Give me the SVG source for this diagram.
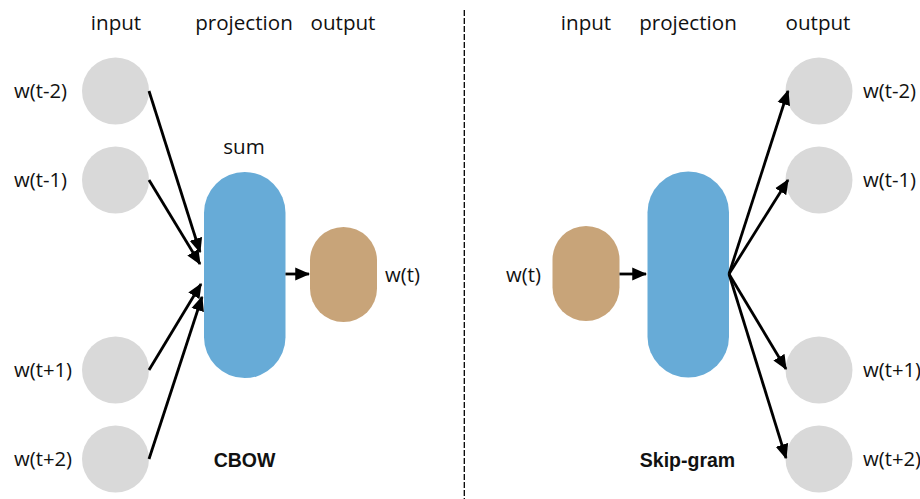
<svg xmlns="http://www.w3.org/2000/svg" width="920" height="499" viewBox="0 0 920 499">
<style>
.lbl{font-family:"Open Sans","Liberation Sans",sans-serif;font-size:20.3px;fill:#111}
.hdr{font-family:"Open Sans","Liberation Sans",sans-serif;font-size:20.6px;fill:#111;text-anchor:middle}
.ttl{font-family:"Liberation Sans","Open Sans",sans-serif;font-size:19.5px;font-weight:bold;fill:#111;text-anchor:middle}
.word{fill:#d9d9d9}
.proj{fill:#67abd7}
.tgt{fill:#c8a479}
.arr{stroke:#000;stroke-width:2.8;fill:none;marker-end:url(#ah)}
</style>
<defs>
<marker id="ah" markerUnits="userSpaceOnUse" markerWidth="15" markerHeight="15" viewBox="0 0 12 12" refX="11" refY="6" orient="auto">
<path d="M0,0.8 L12,6 L0,11.2 Z" fill="#000"/>
</marker>
</defs>
<rect width="920" height="499" fill="#fff"/>
<line x1="464.3" y1="10" x2="464.3" y2="499" stroke="#000" stroke-width="1.3" stroke-dasharray="6,2"/>

<g id="headers-cbow">
<text class="hdr" x="116" y="30">input</text>
<text class="hdr" x="244" y="30">projection</text>
<text class="hdr" x="343" y="30">output</text>
</g>
<g id="headers-skip">
<text class="hdr" x="586" y="30">input</text>
<text class="hdr" x="688" y="30">projection</text>
<text class="hdr" x="818" y="30">output</text>
</g>

<g id="cbow-in1"><circle class="word" cx="115.5" cy="91" r="33.5"/><text class="lbl" x="14" y="98">w(t-2)</text></g>
<g id="cbow-in2"><circle class="word" cx="115.5" cy="180" r="33.5"/><text class="lbl" x="14" y="187">w(t-1)</text></g>
<g id="cbow-in3"><circle class="word" cx="115.5" cy="370" r="33.5"/><text class="lbl" x="14" y="377">w(t+1)</text></g>
<g id="cbow-in4"><circle class="word" cx="115.5" cy="459" r="33.5"/><text class="lbl" x="14" y="466">w(t+2)</text></g>
<g id="cbow-proj"><rect class="proj" x="204" y="172" width="81.5" height="206" rx="40.75"/><text class="hdr" x="244" y="154">sum</text></g>
<g id="cbow-out"><rect class="tgt" x="310" y="227" width="67" height="95" rx="33.5"/><text class="lbl" x="385" y="282">w(t)</text></g>
<g id="cbow-title"><text class="ttl" x="244.5" y="467">CBOW</text></g>

<g id="skip-in"><rect class="tgt" x="552.5" y="226" width="67" height="95" rx="33.5"/><text class="lbl" x="506" y="282">w(t)</text></g>
<g id="skip-proj"><rect class="proj" x="647.5" y="171.5" width="81.5" height="206" rx="40.75"/></g>
<g id="skip-out1"><circle class="word" cx="819" cy="91" r="33.5"/><text class="lbl" x="863" y="98">w(t-2)</text></g>
<g id="skip-out2"><circle class="word" cx="819" cy="180" r="33.5"/><text class="lbl" x="863" y="187">w(t-1)</text></g>
<g id="skip-out3"><circle class="word" cx="819" cy="370" r="33.5"/><text class="lbl" x="863" y="377">w(t+1)</text></g>
<g id="skip-out4"><circle class="word" cx="819" cy="459" r="33.5"/><text class="lbl" x="863" y="466">w(t+2)</text></g>
<g id="skip-title"><text class="ttl" x="687.5" y="467">Skip-gram</text></g>

<g id="connectors">
<line class="arr" x1="149" y1="91" x2="200" y2="252"/>
<line class="arr" x1="149" y1="180" x2="200" y2="264"/>
<line class="arr" x1="149" y1="370" x2="201" y2="284"/>
<line class="arr" x1="149" y1="459" x2="202" y2="297"/>
<line class="arr" x1="285.5" y1="274" x2="309" y2="274"/>
<line class="arr" x1="619.5" y1="274" x2="646" y2="274"/>
<line class="arr" x1="729" y1="274" x2="788" y2="91"/>
<line class="arr" x1="729" y1="274" x2="788" y2="180"/>
<line class="arr" x1="729" y1="274" x2="786" y2="369"/>
<line class="arr" x1="729" y1="274" x2="786" y2="458"/>
</g>
</svg>
